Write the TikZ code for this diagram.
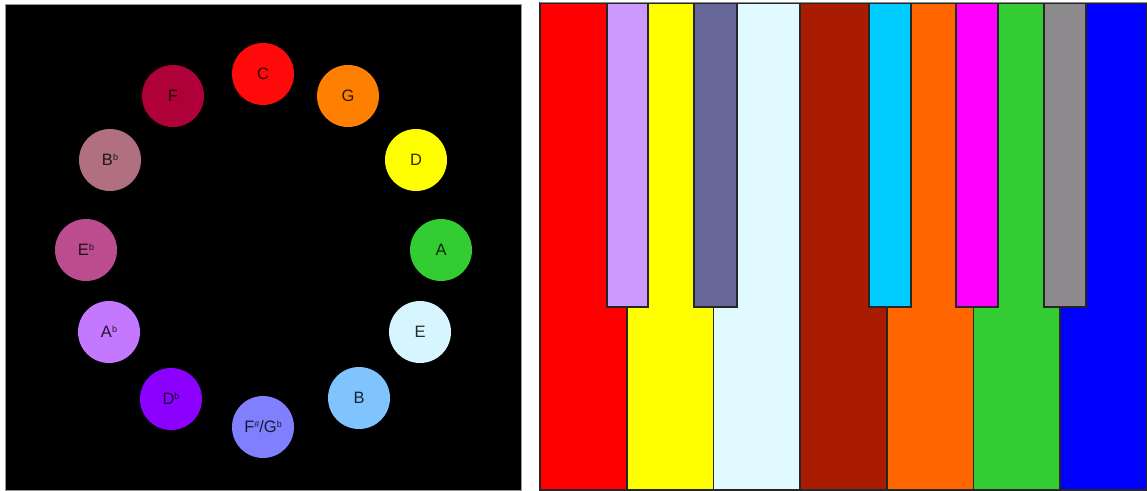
\documentclass[tikz,border=0pt]{standalone}
\usepackage{fontspec}
\setmainfont{Liberation Sans}
\definecolor{cC}{HTML}{FF0A0A}
\definecolor{cG}{HTML}{FF8000}
\definecolor{cD}{HTML}{FFFF00}
\definecolor{cA}{HTML}{33CC33}
\definecolor{cE}{HTML}{D6F5FF}
\definecolor{cB}{HTML}{80C4FF}
\definecolor{cFs}{HTML}{8080FF}
\definecolor{cDb}{HTML}{8C00FF}
\definecolor{cAb}{HTML}{C477FF}
\definecolor{cEb}{HTML}{BB4D8F}
\definecolor{cBb}{HTML}{B07080}
\definecolor{cF}{HTML}{B0003A}
\definecolor{kC}{HTML}{FF0000}
\definecolor{kD}{HTML}{FFFF00}
\definecolor{kE}{HTML}{E0FAFF}
\definecolor{kF}{HTML}{AA1C00}
\definecolor{kG}{HTML}{FF6600}
\definecolor{kA}{HTML}{33CC33}
\definecolor{kB}{HTML}{0000FF}
\definecolor{kDb}{HTML}{CC99FF}
\definecolor{kEb}{HTML}{666699}
\definecolor{kFs}{HTML}{00CCFF}
\definecolor{kAb}{HTML}{FF00FF}
\definecolor{kBb}{HTML}{8C8A8C}
\newcommand\nsup[1]{\raisebox{0.62ex}{\fontsize{9}{9}\selectfont #1}}
\begin{document}
\begin{tikzpicture}[x=1pt,y=-1pt,
  note/.style={circle,minimum size=62pt,inner sep=0pt,
    font=\fontsize{16.5}{16.5}\selectfont,text=black,text opacity=0.82},
  whitekey/.style={draw=black!85,line width=1.8pt},
  blackkey/.style={draw=black!85,line width=1.8pt}]
\useasboundingbox (0,0) rectangle (1147,490);
\fill[white] (0,0) rectangle (1147,490);
% left panel
\filldraw[fill=black,draw=black!40,line width=0.8pt] (5,4) rectangle (521,490);
\node[note,fill=cC]  (C)  at (263,74)  {C};
\node[note,fill=cG]  (G)  at (348,96)  {G};
\node[note,fill=cD]  (D)  at (416,160) {D};
\node[note,fill=cA]  (A)  at (441,250) {A};
\node[note,fill=cE]  (E)  at (420,332) {E};
\node[note,fill=cB]  (B)  at (359,398) {B};
\node[note,fill=cFs] (Fs) at (263,427) {F\nsup{\#}/G\nsup{b}};
\node[note,fill=cDb] (Db) at (171,399) {D\nsup{b}};
\node[note,fill=cAb] (Ab) at (109,332) {A\nsup{b}};
\node[note,fill=cEb] (Eb) at (86,250)  {E\nsup{b}};
\node[note,fill=cBb] (Bb) at (110,160) {B\nsup{b}};
\node[note,fill=cF]  (F)  at (173,96)  {F};
% keyboard: white keys
\def\kw{86.7}
\foreach \c [count=\i from 0] in {kC,kD,kE,kF,kG,kA,kB}{
  \filldraw[whitekey,fill=\c] ({540+\i*\kw},3) rectangle ({540+(\i+1)*\kw},490);
}
% black keys
\filldraw[blackkey,fill=kDb] (607,3) rectangle (648,307);
\filldraw[blackkey,fill=kEb] (694,3) rectangle (737,307);
\filldraw[blackkey,fill=kFs] (869,3) rectangle (911,307);
\filldraw[blackkey,fill=kAb] (956,3) rectangle (998,307);
\filldraw[blackkey,fill=kBb] (1044,3) rectangle (1086,307);
\draw[black!45,line width=0.8pt] (540,2) -- (1147,2);
\end{tikzpicture}
\end{document}
